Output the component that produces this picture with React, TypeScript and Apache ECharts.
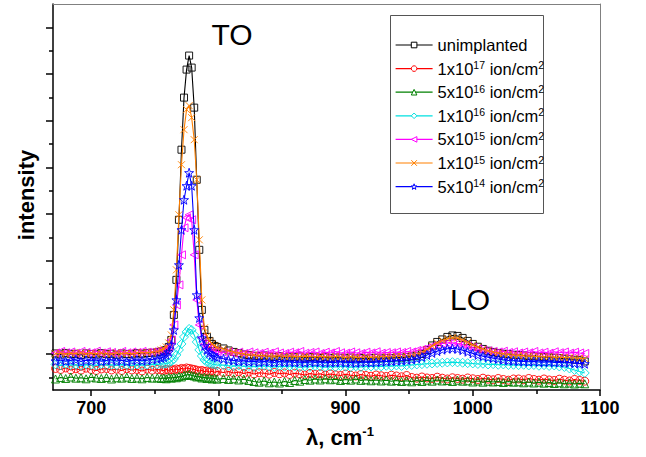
import React, { useEffect, useRef } from 'react';
import * as echarts from 'echarts';

// wavenumber (cm^-1)
const xValues = [
  672, 676, 680, 684, 688, 692, 696, 700, 704, 708, 712, 716, 720, 724, 728, 732, 736, 740, 744, 748, 752,
  755, 757, 759, 761, 763, 765, 767, 769, 771, 773, 775, 777, 779, 781, 783, 785, 787, 789, 791, 793, 795, 797, 799,
  804, 808, 812, 816, 820, 824, 828, 832, 836, 840, 844, 848, 852, 856, 860, 864, 868, 872, 876, 880, 884, 888, 892, 896, 900, 904, 908, 912, 916, 920, 924, 928, 932, 936, 940, 944, 948,
  952, 956, 960, 964, 968, 972, 976, 980, 984, 988, 992, 996, 1000, 1004, 1008, 1012, 1016, 1020, 1024, 1028, 1032,
  1036, 1040, 1044, 1048, 1052, 1056, 1060, 1064, 1068, 1072, 1076, 1080, 1084, 1088,
];

const unimplanted = [
  365, 355, 370, 358, 362, 350, 366, 360, 355, 368, 358, 362, 352, 365, 360, 356, 368, 362, 370, 372, 378,
  385, 390, 400, 430, 500, 750, 1100, 1700, 2400, 2920, 3200, 3340, 3220, 2820, 2100, 1400, 800, 600, 530, 490, 460, 440, 430,
  415, 395, 380, 368, 355, 350, 342, 338, 345, 335, 330, 338, 325, 332, 328, 335, 322, 330, 326, 320, 328, 318, 325, 322, 316, 324, 315, 320, 312, 318, 322, 315, 320, 318, 325, 322, 330,
  335, 342, 360, 400, 445, 480, 505, 530, 545, 540, 520, 490, 460, 432, 410, 392, 380, 370, 362, 358, 352,
  350, 345, 340, 338, 333, 330, 325, 322, 320, 312, 308, 302, 298, 285,
];

const dose1e17 = [
  215, 205, 220, 200, 212, 198, 218, 205, 195, 210, 215, 200, 208, 195, 212, 200, 205, 190, 208, 198, 205,
  200, 195, 205, 198, 205, 200, 210, 205, 215, 210, 220, 215, 210, 205, 198, 190, 195, 185, 190, 180, 188, 178, 185,
  175, 185, 170, 180, 165, 178, 160, 172, 168, 158, 175, 162, 170, 155, 168, 160, 150, 165, 155, 162, 148, 160, 152, 145, 158, 148, 140, 155, 145, 138, 150, 142, 135, 148, 140, 132, 145,
  125, 118, 130, 120, 115, 128, 118, 110, 122, 115, 108, 120, 112, 105, 118, 108, 102, 115, 105, 98, 110,
  110, 102, 115, 105, 98, 110, 100, 95, 108, 98, 90, 105, 95, 88,
];

const dose5e16 = [
  110, 125, 115, 130, 118, 122, 112, 128, 120, 115, 125, 110, 122, 118, 128, 115, 120, 112, 125, 118, 122,
  115, 120, 112, 125, 118, 128, 122, 135, 130, 145, 150, 155, 145, 140, 130, 135, 120, 128, 115, 122, 110, 118, 108,
  115, 105, 112, 100, 108, 95, 85, 78, 90, 72, 80, 70, 85, 75, 95, 88, 105, 98, 110, 100, 112, 102, 108, 95, 105, 98, 110, 96, 102, 92, 100, 90, 98, 88, 95, 85, 92,
  82, 95, 85, 98, 88, 100, 90, 95, 85, 98, 88, 92, 80, 90, 78, 88, 80, 85, 75, 85, 78,
  82, 72, 80, 70, 78, 68, 75, 65, 72, 62, 70, 60, 68, 62,
];

const dose1e16 = [
  255, 245, 258, 248, 252, 242, 255, 250, 245, 258, 248, 252, 245, 255, 250, 242, 255, 248, 252, 258, 255,
  260, 262, 265, 270, 285, 310, 350, 400, 460, 530, 580, 610, 600, 550, 480, 400, 340, 300, 280, 268, 260, 255, 250,
  248, 242, 238, 245, 235, 240, 232, 238, 242, 235, 230, 238, 233, 240, 235, 228, 236, 232, 240, 234, 228, 236, 230, 238, 233, 228, 236, 230, 238, 235, 240, 236, 242, 238, 245, 240, 248,
  250, 255, 258, 262, 265, 270, 272, 275, 278, 275, 272, 268, 265, 260, 262, 255, 258, 252, 255, 250, 252,
  248, 252, 245, 250, 242, 248, 240, 245, 235, 230, 215, 200, 185, 170,
];

const dose5e15 = [
  370, 385, 372, 380, 368, 385, 375, 372, 388, 370, 382, 375, 368, 385, 372, 380, 375, 385, 378, 382, 388,
  390, 400, 410, 440, 500, 650, 850, 1050, 1350, 1620, 1720, 1750, 1700, 1350, 900, 650, 520, 460, 430, 410, 400, 390, 385,
  375, 382, 368, 378, 365, 380, 372, 365, 378, 368, 382, 370, 365, 378, 372, 385, 368, 375, 380, 365, 378, 370, 385, 372, 368, 380, 372, 365, 378, 370, 382, 368, 375, 372, 380, 375, 385,
  380, 395, 405, 420, 440, 455, 465, 470, 472, 465, 455, 440, 425, 410, 400, 392, 385, 380, 388, 375, 382,
  370, 380, 372, 385, 370, 378, 368, 382, 372, 380, 368, 378, 370, 365,
];

const dose1e15 = [
  362, 370, 358, 368, 365, 372, 360, 368, 362, 370, 365, 360, 372, 365, 368, 362, 370, 375, 372, 378, 385,
  400, 410, 430, 470, 550, 800, 1200, 1750, 2250, 2600, 2800, 2840, 2720, 2500, 2100, 1500, 900, 620, 540, 490, 460, 440, 425,
  410, 392, 378, 368, 360, 352, 348, 345, 342, 340, 338, 342, 335, 340, 336, 332, 338, 334, 330, 336, 332, 328, 334, 330, 326, 332, 328, 324, 330, 326, 330, 328, 334, 330, 336, 334, 340,
  345, 355, 375, 405, 440, 470, 495, 512, 522, 518, 500, 475, 450, 428, 408, 392, 380, 370, 362, 355, 350,
  346, 342, 340, 336, 334, 330, 332, 328, 326, 324, 322, 320, 316, 312,
];

const dose5e14 = [
  290, 300, 288, 295, 302, 285, 298, 292, 300, 288, 295, 302, 290, 298, 285, 295, 300, 292, 298, 305, 310,
  320, 330, 350, 380, 450, 600, 900, 1250, 1600, 1900, 2040, 2170, 2040, 1600, 950, 720, 520, 440, 400, 370, 350, 335, 325,
  312, 300, 295, 288, 292, 282, 288, 278, 285, 280, 275, 285, 278, 282, 275, 280, 272, 282, 276, 280, 272, 278, 275, 282, 272, 278, 270, 276, 280, 274, 278, 282, 285, 288, 292, 295, 300,
  305, 315, 330, 350, 370, 388, 402, 412, 415, 410, 398, 382, 366, 350, 338, 328, 318, 310, 302, 295, 292,
  288, 285, 282, 286, 280, 278, 282, 275, 278, 272, 275, 268, 265, 262,
];

const seriesNames = [
  'unimplanted',
  '1x10^17 ion/cm^2',
  '5x10^16 ion/cm^2',
  '1x10^16 ion/cm^2',
  '5x10^15 ion/cm^2',
  '1x10^15 ion/cm^2',
  '5x10^14 ion/cm^2',
];
const legendLabels = [
  'unimplanted',
  '1x10{sup|17} ion/cm{sup|2}',
  '5x10{sup|16} ion/cm{sup|2}',
  '1x10{sup|16} ion/cm{sup|2}',
  '5x10{sup|15} ion/cm{sup|2}',
  '1x10{sup|15} ion/cm{sup|2}',
  '5x10{sup|14} ion/cm{sup|2}',
];
const seriesValues = [unimplanted, dose1e17, dose5e16, dose1e16, dose5e15, dose1e15, dose5e14];

const xMajorTicks = [700, 800, 900, 1000, 1100];
const xMinorTicks = [750, 850, 950, 1050];
const yMajorTicks = [360, 826, 1292, 1758, 2224, 2690, 3156, 3622];
const yMinorTicks = [127, 593, 1059, 1525, 1991, 2457, 2923, 3389];

const colors = ['#000000', '#ff0000', '#008000', '#00e0e0', '#ff00ff', '#ff8000', '#0000ff'];
const crossPath = 'path://M0,0L10,10M10,0L0,10';
const starPath = 'path://M5,0L6.2,3.5L9.8,3.5L6.9,5.7L8,9.1L5,7L2,9.1L3.1,5.7L0.2,3.5L3.8,3.5Z';
const symbols = ['rect', 'circle', 'triangle', 'diamond', 'triangle', crossPath, starPath];
const symbolRotations = [0, 0, 0, 0, 90, 0, 0];
const symbolSizes = [7, 8, 8, 9, 8, 7, 9];

const FONT = '"Liberation Sans", Arial, sans-serif';

export default function App() {
  const ref = useRef<HTMLDivElement>(null);
  useEffect(() => {
    document.body.style.margin = '0';
    if (!ref.current) return;
    const chart = echarts.init(ref.current, undefined, { renderer: 'svg' });
    const hiddenAxisCommon = {
      splitLine: { show: false },
      axisLabel: { show: false },
    };
    const option: any = {
      animation: false,
      textStyle: { fontFamily: FONT },
      grid: { left: 53, right: 46, top: 4, bottom: 67 },
      xAxis: [
        {
          type: 'value', min: 670, max: 1100, position: 'bottom',
          axisLine: { show: true, onZero: false, lineStyle: { color: '#000', width: 1.5 } },
          axisTick: { show: true, customValues: xMajorTicks, length: 6, lineStyle: { color: '#000', width: 1.5 } },
          axisLabel: {
            show: true, customValues: xMajorTicks, margin: 9, fontSize: 18, fontWeight: 'bold', color: '#000', fontFamily: FONT,
            formatter: (v: number) => String(v),
          },
          splitLine: { show: false },
        },
        {
          type: 'value', min: 670, max: 1100, position: 'bottom',
          axisLine: { show: false },
          axisTick: { show: true, customValues: xMinorTicks, length: 4, lineStyle: { color: '#000', width: 1.5 } },
          ...hiddenAxisCommon,
        },
        {
          type: 'value', min: 670, max: 1100, position: 'top',
          axisLine: { show: true, onZero: false, lineStyle: { color: '#808080', width: 1 } },
          axisTick: { show: false },
          ...hiddenAxisCommon,
        },
      ],
      yAxis: [
        {
          type: 'value', min: 0, max: 3855, position: 'left',
          axisLine: { show: true, onZero: false, lineStyle: { color: '#000', width: 1.5 } },
          axisTick: { show: true, customValues: yMajorTicks, length: 7, lineStyle: { color: '#000', width: 1.5 } },
          ...hiddenAxisCommon,
        },
        {
          type: 'value', min: 0, max: 3855, position: 'left',
          axisLine: { show: false },
          axisTick: { show: true, customValues: yMinorTicks, length: 4, lineStyle: { color: '#000', width: 1.5 } },
          ...hiddenAxisCommon,
        },
        {
          type: 'value', min: 0, max: 3855, position: 'right',
          axisLine: { show: true, onZero: false, lineStyle: { color: '#808080', width: 1 } },
          axisTick: { show: false },
          ...hiddenAxisCommon,
        },
      ],
      legend: {
        orient: 'vertical', left: 395, top: 36, padding: 0,
        itemWidth: 37, itemHeight: 7, itemGap: 5.6,
        selectedMode: false,
        data: seriesNames,
        itemStyle: { color: '#fff', borderWidth: 1 },
        lineStyle: { width: 1.2 },
        formatter: (n: string) => legendLabels[seriesNames.indexOf(n)],
        textStyle: {
          fontSize: 16.5, color: '#000', fontFamily: FONT, lineHeight: 18,
          rich: { sup: { fontSize: 10.5, lineHeight: 10, verticalAlign: 'top', color: '#000', fontFamily: FONT } },
        },
      },
      graphic: [
        { type: 'rect', z: 1, shape: { x: 390.5, y: 15.5, width: 153, height: 198 }, style: { fill: '#fff', stroke: '#555', lineWidth: 1 } },
        { type: 'text', x: 232, y: 34, style: { text: 'TO', fontSize: 30, fontFamily: FONT, fill: '#000', align: 'center', verticalAlign: 'middle', textAlign: 'center', textVerticalAlign: 'middle' } },
        { type: 'text', x: 470, y: 299, style: { text: 'LO', fontSize: 30, fontFamily: FONT, fill: '#000', align: 'center', verticalAlign: 'middle', textAlign: 'center', textVerticalAlign: 'middle' } },
        { type: 'text', x: 26, y: 195, rotation: Math.PI / 2, style: { text: 'intensity', fontSize: 22, fontWeight: 'bold', fontFamily: FONT, fill: '#000', align: 'center', verticalAlign: 'middle', textAlign: 'center', textVerticalAlign: 'middle' } },
        {
          type: 'text', x: 340, y: 437,
          style: {
            text: '{a|λ, cm}{s|-1}', fill: '#000', align: 'center', verticalAlign: 'middle', textAlign: 'center', textVerticalAlign: 'middle',
            rich: {
              a: { fontSize: 22, fontWeight: 'bold', fontFamily: FONT, lineHeight: 24 },
              s: { fontSize: 13, fontWeight: 'bold', fontFamily: FONT, lineHeight: 14, verticalAlign: 'top' },
            },
          },
        },
      ],
      series: seriesNames.map((name, i) => ({
        type: 'line',
        name,
        xAxisIndex: 0,
        yAxisIndex: 0,
        data: xValues.map((x, j) => [x, seriesValues[i][j]]),
        symbol: symbols[i],
        symbolSize: symbolSizes[i],
        symbolRotate: symbolRotations[i],
        showSymbol: true,
        lineStyle: { color: colors[i], width: 1.1 },
        itemStyle: { color: 'rgba(255,255,255,0)', borderColor: colors[i], borderWidth: 0.9 },
        emphasis: { disabled: true },
        z: 2 + i,
      })),
    };
    chart.setOption(option);
    return () => chart.dispose();
  }, []);
  return <div ref={ref} style={{ width: 646, height: 457 }} />;
}
